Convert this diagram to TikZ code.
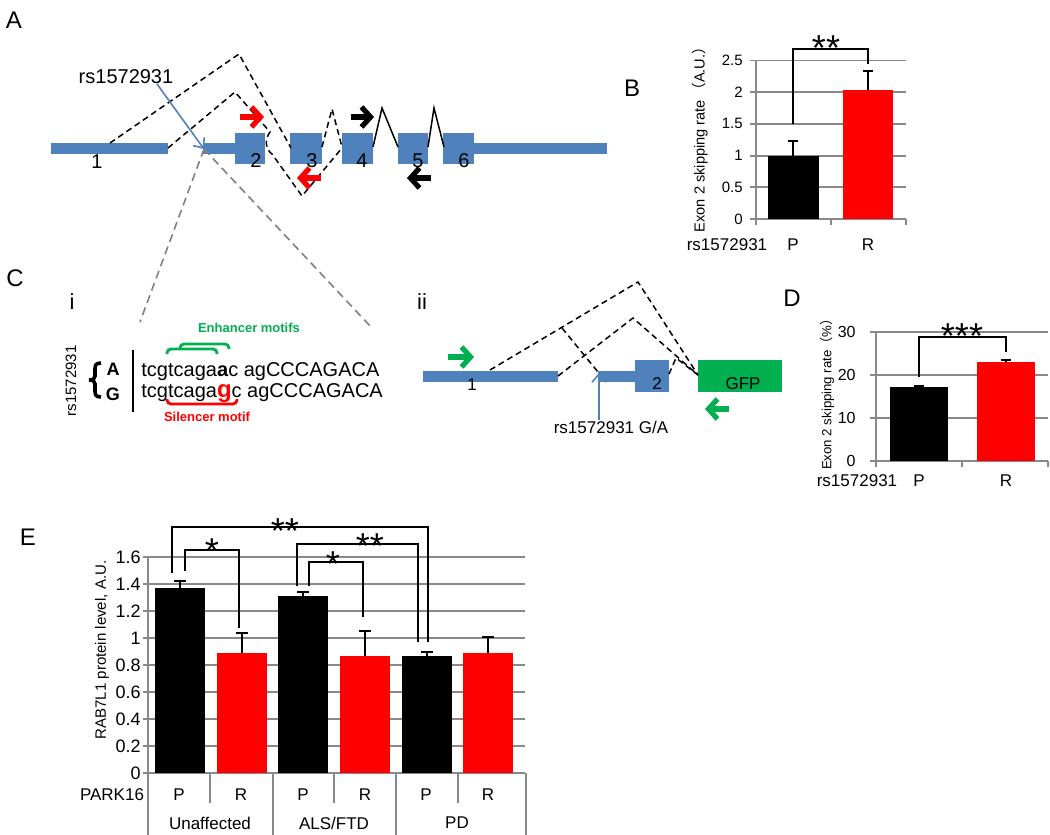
\documentclass[tikz,border=0pt]{standalone}
\usepackage{fontspec}
\setmainfont{Liberation Sans}
\newfontfamily\cjk{Noto Sans CJK SC}
\usetikzlibrary{arrows.meta}
\definecolor{exonblue}{RGB}{79,129,189}
\definecolor{gfpgreen}{RGB}{0,176,80}
\definecolor{gridgray}{RGB}{137,137,137}
\definecolor{zoomgray}{RGB}{128,128,128}
\newcommand{\fsz}[1]{\fontsize{#1}{#1}\selectfont}

\begin{document}
\begin{tikzpicture}[x=0.5pt, y=-0.5pt,
    panel/.style={font=\fsz{12}, inner sep=0},
    num/.style={font=\fsz{10}, inner sep=0},
    lab/.style={font=\fsz{8.5}, inner sep=0},
    ticklab/.style={font=\fsz{7.5}, inner sep=0, anchor=east},
    ylab/.style={font=\fsz{7}, inner sep=0, rotate=90},
    sigstar/.style={font=\fsz{18}, inner sep=0, anchor=base},
    exon/.style={fill=exonblue},
    splice/.style={line width=0.75pt, dash pattern=on 3pt off 2pt},
    intron/.style={line width=0.75pt},
    primer/.style={line width=2.6pt, -{Straight Barb[length=4.5pt,width=10pt]}},
    snp/.style={exonblue, line width=0.8pt, -{Straight Barb[length=4pt,width=7pt]}},
    zoomline/.style={zoomgray, line width=0.8pt, dash pattern=on 4pt off 2.5pt},
    gridline/.style={gridgray, line width=0.9pt},
    errbar/.style={line width=1pt},
    sig/.style={line width=1pt},
    seq/.style={font=\fsz{10}, inner sep=0, anchor=base west},
    motif/.style={line width=1.4pt, rounded corners=2pt}]
\useasboundingbox (0,0) rectangle (1050,835);

% ---- A: gene model with splice variants ----
\node[panel] (labA) at (14,20) {A};
\fill[exon] (51,143) rectangle (168,154);
\fill[exon] (203,143) rectangle (235,154);
\foreach \xa/\xb in {235/265,290/322,342/373,398/428,443/474}
  \fill[exon] (\xa,133) rectangle (\xb,164);
\fill[exon] (474,143) rectangle (607,154);
\node[num] (ex1) at (97,162) {1};
\foreach \n/\xc in {2/256,3/312,4/362,5/418,6/464}
  \node[num] (ex\n) at (\xc,161) {\n};
\draw[splice] (110,143) -- (239,54) -- (291,148);
\draw[splice] (168,148) -- (235,92) -- (270,132) .. controls (264,140) and (266,150) .. (272,154) -- (302,196) -- (342,148);
\draw[splice] (322,147) -- (332,109) -- (342,147);
\draw[intron] (373,147) -- (382,108) -- (398,147);
\draw[intron] (428,147) -- (434,108) -- (444,147);
\draw[primer,red] (240,117) -- (264,117);
\draw[primer,red] (321,178) -- (297,178);
\draw[primer] (351,117) -- (374,117);
\draw[primer] (431,178) -- (407,178);
\node[font=\fsz{10}, inner sep=0] (rsA) at (126,77) {rs1572931};
\coordinate (snpA) at (204,149);
\coordinate (rsfoot) at (157,84);
\draw[snp] (rsfoot) -- (snpA);
\draw[zoomline] (snpA) -- (140,322);
\draw[zoomline] (snpA) -- (372,328);

% ---- B: exon 2 skipping, A.U. ----
\node[panel] (labB) at (632,88) {B};
\def\yB{219}\def\sB{63.4}
\foreach \v [count=\i] in {0,0.5,1,1.5,2,2.5}{
  \draw[gridline] (750,\yB-\sB*\v) -- (906,\yB-\sB*\v);
  \node[ticklab] (tB\i) at (743,\yB-\sB*\v) {\v};
}
\draw[gridline] (756,\yB-\sB*2.5) -- (756,225);
\foreach \xt in {831,906} \draw[gridline] (\xt,\yB) -- (\xt,225);
\fill (768,\yB) rectangle (819,\yB-\sB*1);
\fill[red] (843,\yB) rectangle (893,\yB-\sB*2.04);
\draw[errbar] (793,\yB-\sB*1) -- (793,\yB-\sB*1.23) (788,\yB-\sB*1.23) -- (798,\yB-\sB*1.23);
\draw[errbar] (868,\yB-\sB*2.04) -- (868,\yB-\sB*2.33) (863,\yB-\sB*2.33) -- (873,\yB-\sB*2.33);
\draw[sig] (793,124) -- (793,49) -- (868,49) -- (868,64);
\node[sigstar] (starB) at (826,60) {**};
\node[ylab, font=\fsz{7.3}] (ylB) at (700,136) {Exon 2 skipping rate\,{\cjk （}A.U.{\cjk ）}};
\node[lab] (rsB) at (727,245) {rs1572931};
\node[lab] (catBP) at (793,245) {P};
\node[lab] (catBR) at (868,245) {R};

% ---- C i: sequence around the SNP ----
\node[panel] (labC) at (15,278) {C};
\node[font=\fsz{11}, inner sep=0] (labCi) at (72,302) {i};
\node[font=\fsz{7.5}, inner sep=0, rotate=90] (rsC) at (71,381) {rs1572931};
\draw[line width=1.8pt] (101,363) .. controls (95,363) and (95,366) .. (95,370) -- (95,376)
  .. controls (95,379) and (93,380) .. (89,380) .. controls (93,380) and (95,381) .. (95,384)
  -- (95,390) .. controls (95,394) and (95,397) .. (101,397);
\node[font=\fsz{9}\bfseries, inner sep=0, anchor=base] (alA) at (113,375) {A};
\node[font=\fsz{9}\bfseries, inner sep=0, anchor=base] (alG) at (113,400) {G};
\draw[line width=0.6pt] (133,350) -- (133,412);
\node[seq] (seqA) at (141,376) {tcgtcaga\textbf{a}c agCCCAGACA};
\node[seq] (seqG) at (141,397) {tcgtcaga{\color{red}\fsz{12}\bfseries g}c agCCCAGACA};
\draw[motif,gfpgreen] (167,354) -- (167,349) -- (217,349) -- (217,354);
\draw[motif,gfpgreen] (180,349) -- (180,344) -- (229,344) -- (229,349);
\node[font=\fsz{6.5}\bfseries, text=gfpgreen, inner sep=0] (enh) at (249,328) {Enhancer motifs};
\draw[motif,red] (167,399) -- (167,404) -- (237,404) -- (237,399);
\node[font=\fsz{6.5}\bfseries, text=red, inner sep=0] (sil) at (207,417) {Silencer motif};

% ---- C ii: minigene ----
\node[font=\fsz{11}, inner sep=0] (labCii) at (422,302) {ii};
\fill[exon] (423,371) rectangle (558,382);
\fill[exon] (598,371) rectangle (635,382);
\fill[exon] (635,360) rectangle (669,392);
\fill[gfpgreen] (698,360) rectangle (782,392);
\node[lab] (mg1) at (472,385) {1};
\node[lab] (mg2) at (657,384) {2};
\node[lab] (gfp) at (743,384) {GFP};
\draw[splice] (490,370) -- (638,282) -- (698,375);
\draw[splice] (562,328) -- (598,372);
\draw[splice] (558,376) -- (633,318) -- (698,375);
\draw[splice] (669,374) -- (676,358) -- (698,375);
\draw[primer,gfpgreen] (448,357) -- (474,357);
\draw[primer,gfpgreen] (729,409) -- (705,409);
\node[lab] (rsCii) at (611,427) {rs1572931 G/A};
\coordinate (snpC) at (599,373);
\draw[snp] (rsCii.north -| snpC) -- (snpC);

% ---- D: minigene skipping, % ----
\node[panel] (labD) at (792,298) {D};
\def\yD{461}\def\sD{4.3}
\foreach \v [count=\i] in {0,10,20,30}{
  \draw[gridline] (870,\yD-\sD*\v) -- (1048,\yD-\sD*\v);
  \node[ticklab, font=\fsz{8}] (tD\i) at (856,\yD-\sD*\v) {\v};
}
\draw[gridline] (876,\yD-\sD*30) -- (876,467);
\foreach \xt in {962,1048} \draw[gridline] (\xt,\yD) -- (\xt,467);
\fill (890,\yD) rectangle (948,\yD-\sD*17.1);
\fill[red] (977,\yD) rectangle (1035,\yD-\sD*23);
\draw[errbar] (919,\yD-\sD*17.1) -- (919,\yD-\sD*17.4) (914,\yD-\sD*17.4) -- (924,\yD-\sD*17.4);
\draw[errbar] (1006,\yD-\sD*23) -- (1006,\yD-\sD*23.6) (1001,\yD-\sD*23.6) -- (1011,\yD-\sD*23.6);
\draw[sig] (919,377) -- (919,337) -- (1006,337) -- (1006,352);
\node[sigstar] (starD) at (962,348) {***};
\node[ylab, font=\fsz{6.6}] (ylD) at (827,391) {Exon 2 skipping rate{\cjk （}\%{\cjk ）}};
\node[lab] (rsD) at (857,481) {rs1572931};
\node[lab] (catDP) at (919,481) {P};
\node[lab] (catDR) at (1006,481) {R};

% ---- E: RAB7L1 protein ----
\node[panel] (labE) at (28,537) {E};
\def\yE{773}\def\sE{135}
\foreach \v [count=\i] in {0,0.2,0.4,0.6,0.8,1,1.2,1.4,1.6}{
  \draw[gridline] (143,\yE-\sE*\v) -- (525,\yE-\sE*\v);
  \node[ticklab, font=\fsz{9}] (tE\i) at (141,\yE-\sE*\v) {\v};
}
\draw[gridline] (148,\yE-\sE*1.6) -- (148,835);
\foreach \xt in {273,396,526} \draw[gridline] (\xt,\yE) -- (\xt,835);
\foreach \xt in {210,334,458} \draw[gridline] (\xt,\yE) -- (\xt,803);
\foreach \xl/\v/\e/\c in {155/1.37/1.42/black,217/0.89/1.04/red,278/1.31/1.34/black,340/0.87/1.05/red,402/0.87/0.90/black,463/0.89/1.01/red}{
  \fill[\c] (\xl,\yE) rectangle (\xl+50,\yE-\sE*\v);
  \draw[errbar] (\xl+25,\yE-\sE*\v) -- (\xl+25,\yE-\sE*\e) (\xl+19,\yE-\sE*\e) -- (\xl+31,\yE-\sE*\e);
}
\draw[sig] (172,573) -- (172,527) -- (428,527) -- (428,642);
\draw[sig] (185,571) -- (185,550) -- (239,550) -- (239,628);
\draw[sig] (297,586) -- (297,544) -- (418,544) -- (418,642);
\draw[sig] (309,586) -- (309,562) -- (363,562) -- (363,617);
\node[sigstar] (starE1) at (285,543) {**};
\node[sigstar] (starE2) at (212,563) {*};
\node[sigstar] (starE3) at (370,558) {**};
\node[sigstar] (starE4) at (333,576) {*};
\node[font=\fsz{7.5}, inner sep=0, rotate=90] (ylE) at (102,650) {RAB7L1 protein level, A.U.};
\node[lab] (park) at (112,795) {PARK16};
\foreach \xc/\t [count=\i] in {179/P,241/R,303/P,365/R,426/P,488/R}
  \node[lab] (catE\i) at (\xc,795) {\t};
\node[lab] (grpU) at (210,823) {Unaffected};
\node[lab] (grpA) at (334,823) {ALS/FTD};
\node[lab] (grpP) at (457,823) {PD};
\end{tikzpicture}
\end{document}
